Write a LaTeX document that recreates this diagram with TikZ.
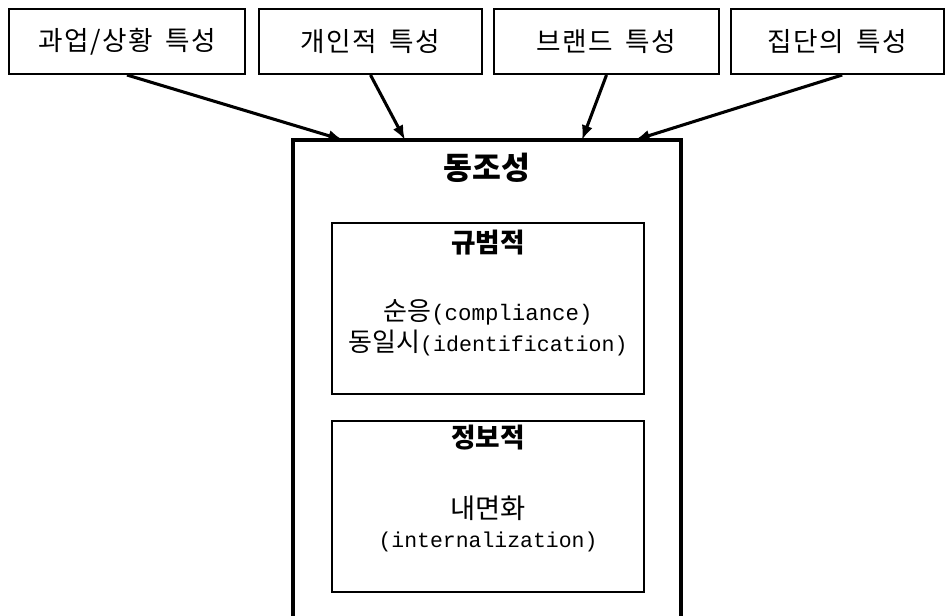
\documentclass[tikz,border=0pt]{standalone}
\usepackage{fontspec}
\newfontfamily\kr{Noto Sans CJK KR}
\newfontfamily\krsp{Noto Sans CJK KR}[LetterSpace=6,WordSpace=1.6]
\newfontfamily\mono{Liberation Mono}
\usetikzlibrary{arrows.meta}
\begin{document}
\begin{tikzpicture}[x=0.75pt,y=-0.75pt,
  topbox/.style={draw,line width=1.5pt,minimum height=48.75pt,inner sep=0pt,font=\krsp\fontsize{20}{24}\selectfont},
  innerbox/.style={draw,line width=1.5pt,minimum width=234pt,minimum height=128.25pt,inner sep=0pt},
  arr/.style={line width=2.3pt,-{Latex[length=11pt,width=8.5pt]}},
  krtxt/.style={inner sep=0pt,font=\kr\fontsize{19.5}{23}\selectfont}]
\clip (0,0) rectangle (946,615);
\fill[white] (0,0) rectangle (946,615);
% top boxes
\node[topbox,minimum width=177pt] (b1) at (127,41.5) {과업/상황 특성};
\node[topbox,minimum width=167.25pt] (b2) at (370.5,41.5) {개인적 특성};
\node[topbox,minimum width=168.75pt] (b3) at (606.5,41.5) {브랜드 특성};
\node[topbox,minimum width=159.75pt] (b4) at (837.5,41.5) {집단의 특성};
% main box
\node[draw,line width=2.3pt,minimum width=291pt,minimum height=375pt,inner sep=0pt] (main) at (487,390) {};
\node[inner sep=0pt,font=\kr\bfseries\fontsize{23.5}{27}\selectfont] (title) at (487,168) {동조성};
% inner boxes
\node[innerbox] (in1) at (488,308.5) {};
\node[innerbox] (in2) at (488,506.5) {};
\node[inner sep=0pt,font=\kr\bfseries\fontsize{20}{24}\selectfont] (t1) at (488,243) {규범적};
\node[inner sep=0pt] (t1a) at (488,312) {{\kr\fontsize{19.5}{23}\selectfont 순응}{\mono\fontsize{16.8}{20}\selectfont (compliance)}};
\node[inner sep=0pt] (t1b) at (488,343) {{\kr\fontsize{19.5}{23}\selectfont 동일시}{\mono\fontsize{16.2}{20}\selectfont (identification)}};
\node[inner sep=0pt,font=\kr\bfseries\fontsize{20}{24}\selectfont] (t2) at (488,438) {정보적};
\node[krtxt,font=\kr\fontsize{20.5}{24}\selectfont] (t2a) at (488,508) {내면화};
\node[inner sep=0pt,font=\mono\fontsize{16.1}{20}\selectfont] (t2b) at (488,542) {(internalization)};
% arrow end points on main top edge
\coordinate (e1) at (343,140);
\coordinate (e2) at (405,140);
\coordinate (e3) at (582,140);
\coordinate (e4) at (635,140);
\draw[arr] (b1.south) -- (e1);
\draw[arr] (b2.south) -- (e2);
\draw[arr] (b3.south) -- (e3);
\draw[arr] ([xshift=3.5pt]b4.south) -- (e4);
\end{tikzpicture}
\end{document}
